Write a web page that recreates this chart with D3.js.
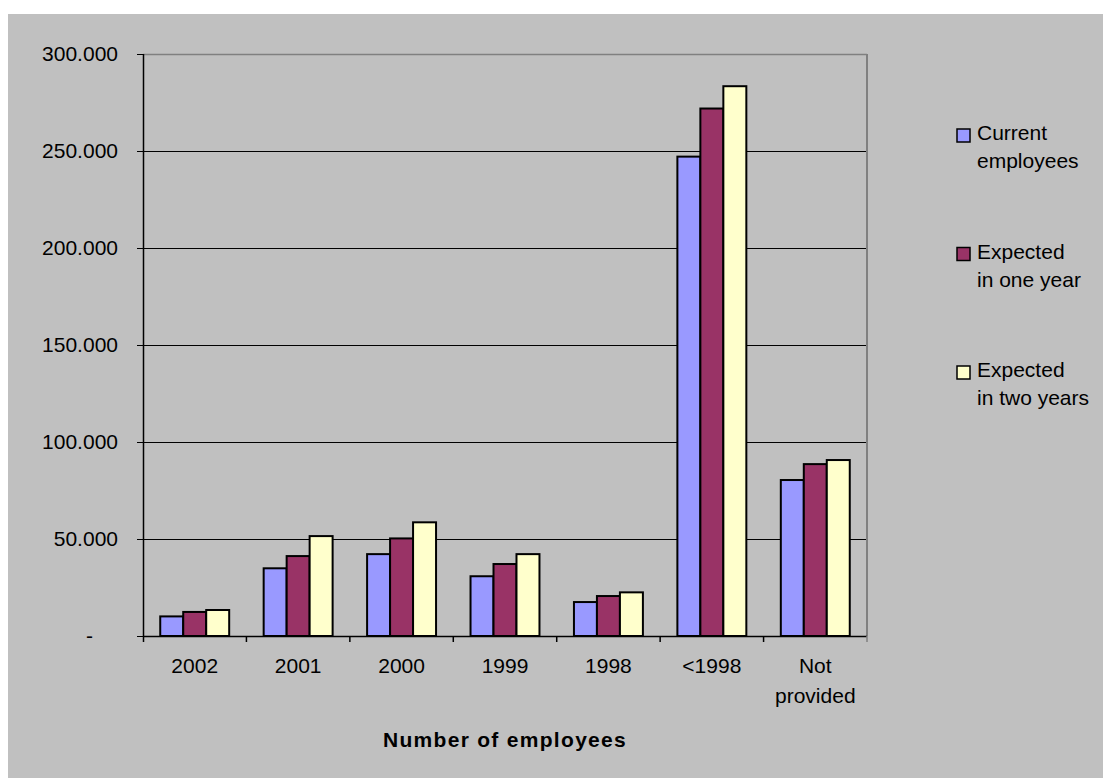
<!DOCTYPE html>
<html>
<head>
<meta charset="utf-8">
<script src="https://cdn.jsdelivr.net/npm/d3@7"></script>
<style>
  html, body { margin: 0; padding: 0; background: #ffffff; }
  svg { display: block; font-family: "Liberation Sans", Arial, sans-serif; }
</style>
</head>
<body>
<svg id="chart" width="1103" height="778"></svg>
<script>
// Employees by year of first registration
const categories = ["2002", "2001", "2000", "1999", "1998", "<1998", "Not provided"];
const seriesNames = ["Current employees", "Expected in one year", "Expected in two years"];
const legendLines = [["Current", "employees"], ["Expected", "in one year"], ["Expected", "in two years"]];
const currentEmployees = [10100, 34900, 42200, 30800, 17500, 247100, 80400];
const expectedOneYear  = [12400, 41200, 50300, 37100, 20600, 271900, 88600];
const expectedTwoYears = [13400, 51500, 58600, 42200, 22500, 283400, 90700];
const yTicks = [0, 50000, 100000, 150000, 200000, 250000, 300000];
const xTitle = "Number of employees";

const seriesValues = [currentEmployees, expectedOneYear, expectedTwoYears];
const colors = ["#9999ff", "#993366", "#ffffcc"];

const svg = d3.select("#chart");
const W = 1103, H = 778;
const plot = { left: 143, right: 867, top: 54, bottom: 636 };

// Background panel
svg.append("rect").attr("x", 8).attr("y", 14).attr("width", W - 8).attr("height", H - 14)
  .attr("fill", "#c0c0c0");

const x0 = d3.scaleBand().domain(categories).range([plot.left, plot.right]).paddingInner(0).paddingOuter(0);
const x1 = d3.scaleBand().domain(d3.range(seriesNames.length)).range([0, x0.bandwidth()])
  .paddingInner(0).paddingOuter(0.75);
const y = d3.scaleLinear().domain([0, 300000]).range([plot.bottom, plot.top]);

// Horizontal gridlines
svg.append("g").selectAll("line").data(yTicks.filter(d => d > 0 && d < 300000)).join("line")
  .attr("x1", plot.left).attr("x2", plot.right)
  .attr("y1", d => y(d) + 0.5).attr("y2", d => y(d) + 0.5)
  .attr("stroke", "#000").attr("stroke-width", 1);

// Plot frame (top and right)
svg.append("line").attr("x1", plot.left).attr("x2", plot.right).attr("y1", plot.top + 0.5).attr("y2", plot.top + 0.5)
  .attr("stroke", "#808080").attr("stroke-width", 1.5);
svg.append("line").attr("x1", plot.right).attr("x2", plot.right).attr("y1", plot.top).attr("y2", plot.bottom)
  .attr("stroke", "#808080").attr("stroke-width", 2);

// Bars
const groups = svg.append("g").selectAll("g").data(categories).join("g")
  .attr("transform", d => `translate(${x0(d)},0)`);
groups.selectAll("rect").data((c, ci) => seriesValues.map((vals, si) => ({ si, v: vals[ci] }))).join("rect")
  .attr("x", d => x1(d.si))
  .attr("width", x1.bandwidth())
  .attr("y", d => y(d.v))
  .attr("height", d => y(0) - y(d.v))
  .attr("fill", d => colors[d.si])
  .attr("stroke", "#000").attr("stroke-width", 2);

// Y axis
const yAxis = svg.append("g").attr("transform", `translate(${plot.left},0)`)
  .call(d3.axisLeft(y).tickValues(yTicks).tickSize(6).tickPadding(19)
    .tickFormat(d => d === 0 ? "-" : d3.format(",")(d).replace(/,/g, ".")));
yAxis.select(".domain").remove();
yAxis.selectAll(".tick line").attr("stroke", "#000");
yAxis.selectAll(".tick text").attr("font-size", 21).attr("fill", "#000").attr("dy", "0.33em");
yAxis.selectAll(".tick text").filter(d => d === 0).attr("dx", -25);
svg.append("line").attr("x1", plot.left + 0.5).attr("x2", plot.left + 0.5)
  .attr("y1", plot.top).attr("y2", plot.bottom + 6).attr("stroke", "#000").attr("stroke-width", 1.5);

// X axis line and boundary ticks
svg.append("line").attr("x1", plot.left).attr("x2", plot.right).attr("y1", plot.bottom + 0.5).attr("y2", plot.bottom + 0.5)
  .attr("stroke", "#000").attr("stroke-width", 1.5);
svg.append("g").selectAll("line").data(categories.slice(1).concat([null])).join("line")
  .attr("x1", d => d === null ? plot.right : x0(d)).attr("x2", d => d === null ? plot.right : x0(d))
  .attr("y1", plot.bottom).attr("y2", plot.bottom + 6)
  .attr("stroke", d => d === null ? "#808080" : "#000").attr("stroke-width", 1.5);

// Category labels
const catLabels = svg.append("g").selectAll("text").data(categories).join("text")
  .attr("x", d => x0(d) + x0.bandwidth() / 2)
  .attr("y", 673)
  .attr("text-anchor", "middle").attr("font-size", 21).attr("fill", "#000");
catLabels.each(function (d) {
  const words = d === "Not provided" ? ["Not", "provided"] : [d];
  const t = d3.select(this);
  words.forEach((w, i) => {
    t.append("tspan").attr("x", x0(d) + x0.bandwidth() / 2).attr("dy", i === 0 ? 0 : 30).text(w);
  });
});

// X axis title
svg.append("text").attr("x", 505).attr("y", 747).attr("text-anchor", "middle")
  .attr("font-size", 21).attr("font-weight", "bold").attr("letter-spacing", 1.3)
  .attr("fill", "#000").text(xTitle);

// Legend
const legend = svg.append("g").selectAll("g").data(seriesNames).join("g")
  .attr("transform", (d, i) => `translate(957,${129 + i * 118.5})`);
legend.append("rect").attr("width", 13).attr("height", 13)
  .attr("fill", (d, i) => colors[i]).attr("stroke", "#000").attr("stroke-width", 1.5);
legend.append("text").attr("x", 20).attr("y", 11).attr("font-size", 21).attr("fill", "#000")
  .each(function (d, i) {
    const t = d3.select(this);
    legendLines[i].forEach((line, j) => {
      t.append("tspan").attr("x", 20).attr("dy", j === 0 ? 0 : 28).text(line);
    });
  });
</script>
</body>
</html>
